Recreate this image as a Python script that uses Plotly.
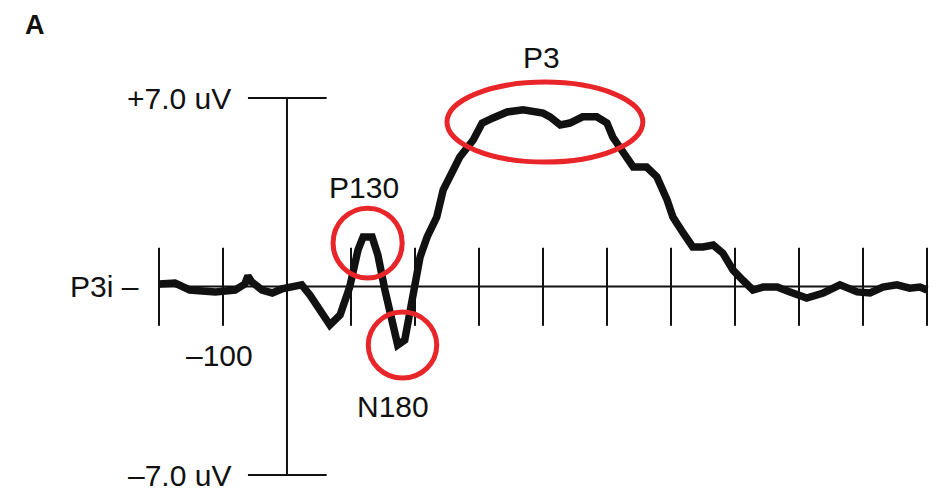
import plotly.graph_objects as go

# Waveform (time in ms, amplitude in uV)
time_ms = [-200, -175, -152, -112, -81, -66, -61, -55, -39, -23, -8, 8, 23, 36, 52, 67, 83, 98,
           111, 119, 133, 142, 153, 164, 173, 184, 195, 208, 219, 234, 244, 270, 291, 305, 322,
           344, 369, 400, 411, 427, 442, 462, 484, 500, 509, 525, 541, 562, 578, 594, 603, 619,
           634, 650, 666, 681, 697, 712, 728, 744, 766, 786, 812, 838, 864, 891, 911, 931, 953,
           973, 989, 1000]
amp_uv = [0.09, 0.13, -0.13, -0.20, -0.13, 0.09, 0.39, 0.17, -0.13, -0.24, -0.09, -0.02, 0.06,
          -0.32, -0.87, -1.43, -1.06, -0.02, 1.36, 1.84, 1.84, 1.17, -0.13, -1.24, -2.17, -1.99,
          -0.50, 1.10, 1.84, 2.58, 3.58, 4.81, 5.44, 6.07, 6.26, 6.48, 6.56, 6.44, 6.30, 6.00,
          6.07, 6.30, 6.30, 6.07, 5.55, 4.96, 4.44, 4.44, 4.07, 3.21, 2.58, 1.99, 1.47, 1.47,
          1.54, 1.24, 0.61, 0.24, -0.13, -0.02, -0.02, -0.20, -0.43, -0.24, 0.06, -0.20, -0.24,
          -0.02, 0.06, -0.06, -0.02, -0.13]

tick_times = [-200, -100, 100, 200, 300, 400, 500, 600, 700, 800, 900, 1000]
y_limits = [-7.0, 7.0]
x_limits = [-200, 1000]

# Component labels: (text, time, amplitude)
comp_names = ["P130", "N180", "P3"]
comp_label_t = [120, 166, 397]
comp_label_v = [3.69, -4.44, 8.5]
# Highlight ellipses: (t0, t1, v0, v1)
comp_box_t0 = [72, 127, 250]
comp_box_t1 = [180, 234, 556]
comp_box_v0 = [0.32, -3.40, 4.62]
comp_box_v1 = [2.91, -0.95, 7.59]

BLACK = "#111111"
RED = "#e8262a"
FONT = "Liberation Sans, Arial, sans-serif"
FS = 30

fig = go.Figure()

shapes = []
shapes.append(dict(type="line", x0=x_limits[0], x1=x_limits[1], y0=0, y1=0,
                   line=dict(color=BLACK, width=2), layer="below"))
shapes.append(dict(type="line", x0=0, x1=0, y0=y_limits[0], y1=y_limits[1],
                   line=dict(color=BLACK, width=2), layer="below"))
for yv in y_limits:
    shapes.append(dict(type="line", x0=-61, x1=62, y0=yv, y1=yv,
                       line=dict(color=BLACK, width=2), layer="below"))
for t in tick_times:
    shapes.append(dict(type="line", x0=t, x1=t, y0=-1.46, y1=1.44,
                       line=dict(color=BLACK, width=2), layer="below"))
for t0, t1, v0, v1 in zip(comp_box_t0, comp_box_t1, comp_box_v0, comp_box_v1):
    shapes.append(dict(type="circle", x0=t0, x1=t1, y0=v0, y1=v1,
                       line=dict(color=RED, width=5), layer="above"))

fig.add_trace(go.Scatter(x=time_ms, y=amp_uv, mode="lines",
                         line=dict(color=BLACK, width=7.5), hoverinfo="skip",
                         showlegend=False))

annotations = []
for name, t, v in zip(comp_names, comp_label_t, comp_label_v):
    annotations.append(dict(x=t, y=v, text=name, showarrow=False,
                            xanchor="center", yanchor="middle",
                            font=dict(family=FONT, size=FS, color=BLACK)))
annotations.append(dict(x=-84, y=7.0, text="+7.0 uV", showarrow=False,
                        xanchor="right", yanchor="middle",
                        font=dict(family=FONT, size=FS, color=BLACK)))
annotations.append(dict(x=-84, y=-7.0, text="–7.0 uV", showarrow=False,
                        xanchor="right", yanchor="middle",
                        font=dict(family=FONT, size=FS, color=BLACK)))
annotations.append(dict(x=-228, y=0, text="P3i –", showarrow=False,
                        xanchor="right", yanchor="middle",
                        font=dict(family=FONT, size=FS, color=BLACK)))
annotations.append(dict(x=-105, y=-2.58, text="–100", showarrow=False,
                        xanchor="center", yanchor="middle",
                        font=dict(family=FONT, size=FS, color=BLACK)))
annotations.append(dict(x=27 / 949, y=1.0, xref="paper", yref="paper",
                        text="<b>A</b>", showarrow=False,
                        xanchor="center", yanchor="top",
                        font=dict(family=FONT, size=27, color=BLACK)))

fig.update_layout(
    width=949, height=493,
    margin=dict(l=0, r=0, t=0, b=0),
    paper_bgcolor="white", plot_bgcolor="white",
    xaxis=dict(range=[-435.9, 1046.9], visible=False, fixedrange=True),
    yaxis=dict(range=[-7.965, 10.342], visible=False, fixedrange=True),
    shapes=shapes, annotations=annotations,
    showlegend=False,
)

fig.write_html("out.html")
